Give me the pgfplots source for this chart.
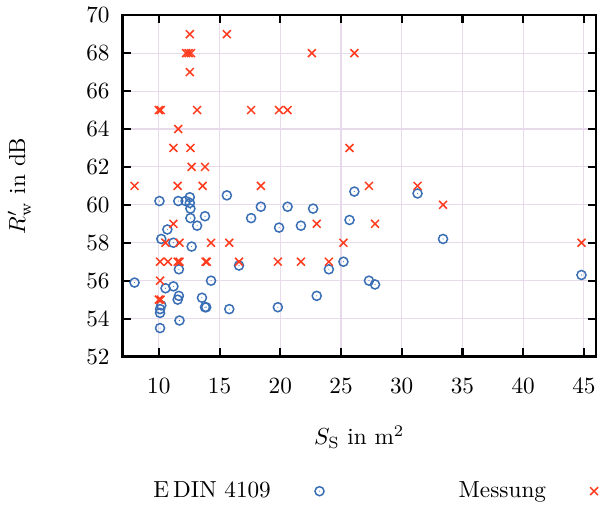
\documentclass[border=0pt]{standalone}
\usepackage{pgfplots}
\pgfplotsset{compat=1.18}

\definecolor{dinblue}{HTML}{3A6FB5}
\definecolor{messred}{HTML}{FF3C1E}
\definecolor{gridlila}{HTML}{E6DAEB}

% circle with a dot in the middle
\pgfdeclareplotmark{odot}{%
  \pgfpathcircle{\pgfpointorigin}{\pgfplotmarksize}\pgfusepathqstroke
  \pgfpathcircle{\pgfpointorigin}{0.12\pgfplotmarksize}\pgfusepathqfill}

\begin{document}
\begin{tikzpicture}
\begin{axis}[
    scale only axis,
    width=204pt,
    height=147pt,
    xmin=7, xmax=46,
    ymin=52, ymax=70,
    xtick={10,15,...,45},
    ytick={52,54,...,70},
    tick align=inside,
    major tick length=3.5pt,
    every tick/.style={black, line width=0.9pt},
    axis line style={line width=1pt},
    grid=major,
    grid style={gridlila, line width=0.45pt},
    xticklabel style={yshift=-6pt},
    yticklabel style={xshift=-2pt},
    xlabel={$S_\mathrm{S}$ in m$^2$},
    ylabel={$R'_\mathrm{w}$ in dB},
    xlabel style={yshift=-7pt},
    ylabel style={yshift=17pt},
    legend columns=2,
    legend plot pos=right,
    legend cell align=right,
    legend style={
        at={(0.53,0)}, anchor=center, yshift=-58pt,
        draw=none, fill=none,
        /tikz/every odd column/.append style={column sep=17pt},
        /tikz/every even column/.append style={column sep=56pt},
    },
]
\addplot[only marks, dinblue, mark=odot, mark size=1.95pt, line width=0.65pt] coordinates {
(10.05,60.2) (11.6,60.2) (12.2,60.2) (12.55,60.4) (12.55,60.1) (12.6,59.8)
(15.6,60.5) (18.4,59.9) (20.6,59.9) (22.7,59.8) (26.1,60.7) (12.6,59.3)
(13.8,59.4) (10.7,58.7) (13.15,58.9) (17.6,59.3) (19.9,58.8) (21.7,58.9)
(25.7,59.2) (10.2,58.2) (11.2,58.0) (12.7,57.8) (25.2,57.0) (16.6,56.8)
(11.65,56.6) (24.0,56.6) (8.0,55.9) (14.3,56.0) (10.55,55.6) (11.2,55.7)
(11.65,55.2) (11.55,55.0) (13.55,55.1) (13.8,54.6) (13.9,54.6) (15.8,54.5)
(19.8,54.6) (23.0,55.2) (10.2,54.7) (10.1,54.5) (10.1,54.3) (11.7,53.9)
(10.1,53.5) (27.3,56.0) (27.8,55.8) (31.3,60.6) (33.4,58.2) (44.8,56.3)
};
\addplot[only marks, messred, mark=x, mark size=2.4pt, line width=0.65pt] coordinates {
(12.55,69) (15.6,69)
(12.25,68) (12.45,68) (12.65,68) (22.6,68) (26.1,68)
(12.55,67)
(10.0,65) (10.15,65) (13.15,65) (17.6,65) (19.9,65) (20.6,65)
(11.6,64)
(11.2,63) (12.6,63) (25.7,63)
(12.7,62) (13.8,62)
(8.0,61) (11.55,61) (13.6,61) (18.4,61) (27.3,61) (31.3,61)
(33.4,60)
(11.2,59) (23.0,59) (27.8,59)
(10.55,58) (11.7,58) (14.3,58) (15.8,58) (25.2,58) (44.8,58)
(10.1,57) (10.75,57) (11.55,57) (11.7,57) (13.85,57) (13.95,57) (16.6,57)
(19.8,57) (21.7,57) (24.0,57)
(10.1,56)
(10.0,55) (10.15,55)
};
\legend{E\,DIN 4109, Messung}
\end{axis}
\end{tikzpicture}
\end{document}
